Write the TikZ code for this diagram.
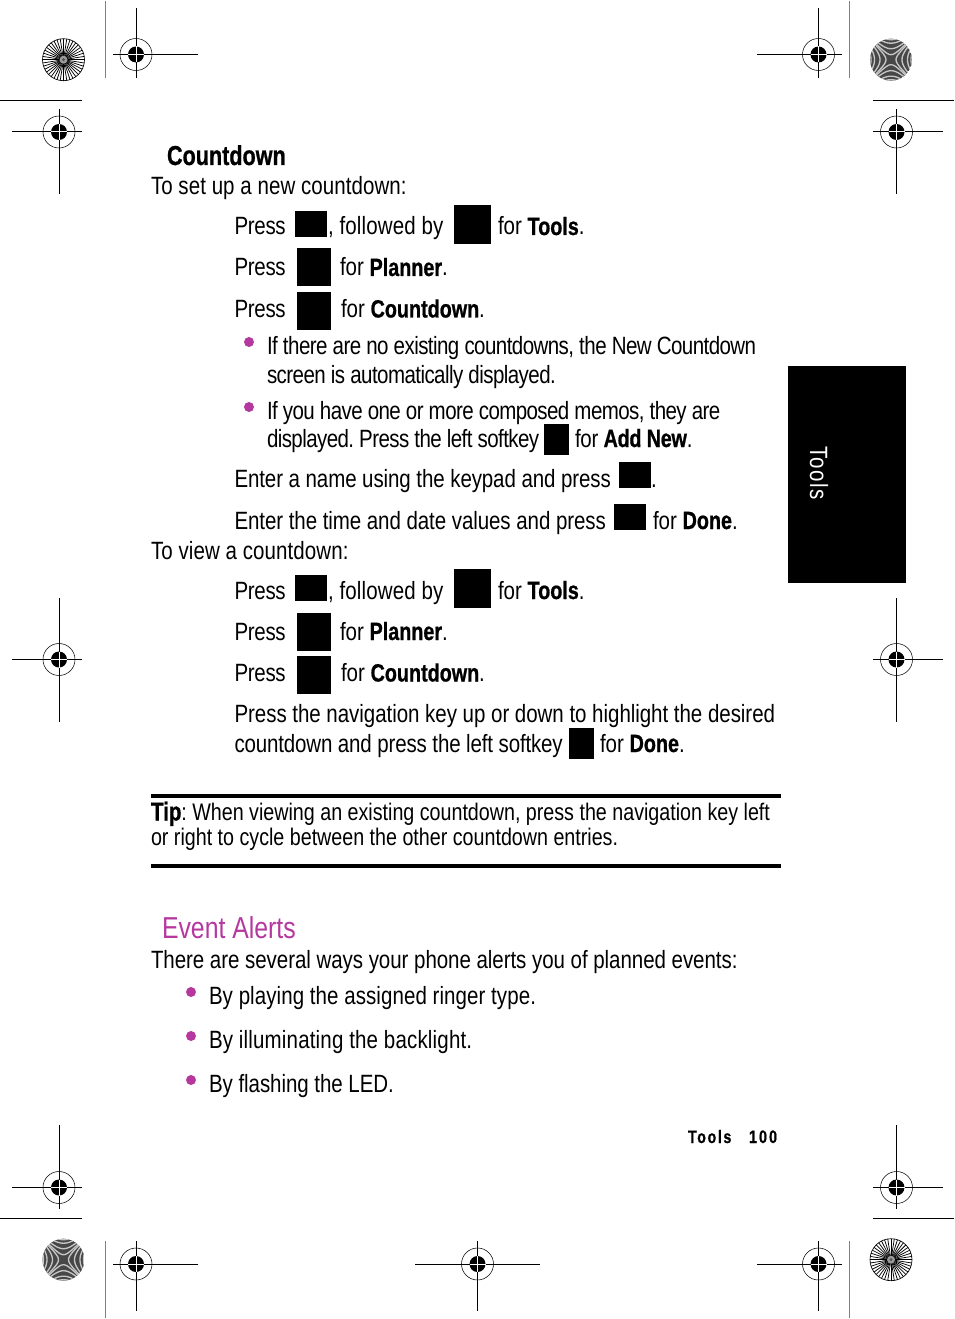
\documentclass[tikz,border=0pt]{standalone}
\usepackage{fontspec}
\setmainfont[FakeStretch=0.82,BoldFeatures={FakeStretch=0.79,FakeBold=0.8}]{Liberation Sans}
\usetikzlibrary{positioning}
\definecolor{alertpurple}{HTML}{B5389F}
\frenchspacing
\tikzset{
  txt/.style={anchor=base west, inner sep=0pt, outer sep=0pt, font=\fontsize{18.75pt}{22pt}\selectfont},
  ls/.style={txt, font=\fontsize{18.75pt}{22pt}\selectfont\addfontfeature{LetterSpace=#1}},
  tiptxt/.style={txt, font=\fontsize{18pt}{20pt}\selectfont},
  smallkey/.style={fill=black, inner sep=0pt, minimum width=24pt, minimum height=19.5pt},
  bigkey/.style={fill=black, inner sep=0pt, minimum width=27.75pt, minimum height=29.25pt},
  tallkey/.style={fill=black, inner sep=0pt, minimum width=25.5pt, minimum height=28.5pt},
  softkey/.style={fill=black, inner sep=0pt, minimum width=18.75pt, minimum height=23.25pt},
  bullet/.style={circle, fill=alertpurple, inner sep=0pt, minimum size=7.5pt},
  rule/.style={line width=3pt},
  trim/.style={line width=0.75pt}
}
\begin{document}
\begin{tikzpicture}[x=0.75pt, y=-0.75pt]
  \useasboundingbox (0,0) rectangle (954,1319);

  % Target circles
  \foreach \cx/\cy in {63.5/59.7, 891/1259.7} {
    \draw[black, line width=0.5pt] (\cx,\cy) circle (21);
    \foreach \a in {0,9,...,351}
      \draw[line width=0.55pt] (\cx,\cy) -- ++(\a:21);
    \fill[gray!80] (\cx,\cy) circle (4);
    \fill[black!70] (\cx,\cy) circle (1.5);
  }
  \foreach \cx/\cy in {891/59.7, 63.5/1259.7} {
    \begin{scope}
      \clip (\cx,\cy) circle (21);
      \fill[black!72] (\cx,\cy) circle (21);
      \foreach \c in {5,11,16.5,20}
        \foreach \s in {-1,1} {
          \draw[gray!45, line width=1pt] plot[domain=-21:21, samples=25, smooth] ({\cx+\x},{\cy+\s*sqrt(\x*\x+\c*\c)});
          \draw[gray!45, line width=1pt] plot[domain=-21:21, samples=25, smooth] ({\cx+\s*sqrt(\x*\x+\c*\c)},{\cy+\x});
        }
    \end{scope}
  }

  % Crop marks
  \foreach \cx/\cy/\xa/\xb/\ya/\yb in {
    136/54.5/113/198/8/78, 818.5/54.5/757/842/8/78,
    59/132/12/82/109/194, 896.5/132/873/943/109/194,
    59/659.5/12/82/598/722, 896.5/659.5/873/943/598/722,
    59/1187.5/12/82/1125/1209, 896.5/1187.5/873/943/1125/1209,
    136/1264/113/198/1241/1311, 477.5/1264/415/540/1241/1311, 818.5/1264/757/842/1241/1311} {
    \fill (\cx,\cy) circle (8);
    \draw[line width=0.4pt] (\cx,\cy) circle (16);
    \draw[trim] (\xa,\cy) -- (\xb,\cy);
    \draw[trim] (\cx,\ya) -- (\cx,\yb);
    \draw[white, line width=0.75pt] (\cx-8,\cy) -- (\cx+8,\cy);
    \draw[white, line width=0.75pt] (\cx,\cy-8) -- (\cx,\cy+8);
  }
  \draw[trim, gray] (105.5,1) -- (105.5,78);
  \draw[trim, gray] (849.5,1) -- (849.5,78);
  \draw[trim, gray] (105.5,1241) -- (105.5,1318);
  \draw[trim, gray] (849.5,1241) -- (849.5,1318);
  \draw[trim] (0,101) -- (82,101);
  \draw[trim] (873,101) -- (954,101);
  \draw[trim] (0,1218.5) -- (82,1218.5);
  \draw[trim] (873,1218.5) -- (954,1218.5);

  % Side tab
  \fill (788,366) rectangle (906,583);
  \node[ls=6, rotate=-90, white] (tab) at (810,446) {Tools};

  % First list
  \node[txt, font=\fontsize{20.5pt}{24pt}\selectfont\bfseries] (title) at (167,165) {Countdown};
  \node[ls=0.3] (setup) at (151,195) {To set up a new countdown:};

  \node[ls=-1.2] (pa) at (234.5,235) {Press};
  \node[smallkey] (ka) at (311,224) {};
  \node[ls=0.6] (fa) at (328,235) {, followed by};
  \node[bigkey] (kb) at (472.5,224.5) {};
  \node[txt] (ta) at (498,235) {for \textbf{Tools}.};

  \node[ls=-1.2] (pb) at (234.5,276) {Press};
  \node[tallkey] (kc) at (314,267.5) {};
  \node[txt] (tb) at (340,276) {for \textbf{Planner}.};

  \node[ls=-1.2] (pc) at (234.5,317.5) {Press};
  \node[tallkey] (kd) at (314,311) {};
  \node[txt] (tc) at (341,317.5) {for \textbf{Countdown}.};

  \node[bullet] (ba) at (249,342) {};
  \node[ls=-2.2] (la) at (267,354) {If there are no existing countdowns, the New Countdown};
  \node[ls=-2.2] (lb) at (267,383) {screen is automatically displayed.};
  \node[bullet] (bb) at (249,407) {};
  \node[ls=-2.3] (lc) at (267,419) {If you have one or more composed memos, they are};
  \node[ls=-2.3] (ld) at (267,447) {displayed. Press the left softkey};
  \node[softkey] (ke) at (556.5,439) {};
  \node[ls=-1] (le) at (575,447) {for \textbf{Add New}.};

  \node[ls=-0.4] (na) at (234.5,487) {Enter a name using the keypad and press};
  \node[smallkey] (kf) at (635,475) {};
  \node[txt] (nb) at (651,487) {.};
  \node[ls=-0.3] (da) at (234.5,529) {Enter the time and date values and press};
  \node[smallkey] (kg) at (630,516.5) {};
  \node[txt] (db) at (653,529) {for \textbf{Done}.};

  % Second list
  \node[ls=0.4] (view) at (151,559) {To view a countdown:};

  \node[ls=-1.2] (pd) at (234.5,599) {Press};
  \node[smallkey] (kh) at (311,588) {};
  \node[ls=0.6] (fb) at (328,599) {, followed by};
  \node[bigkey] (ki) at (472.5,588.5) {};
  \node[txt] (td) at (498,599) {for \textbf{Tools}.};

  \node[ls=-1.2] (pe) at (234.5,640) {Press};
  \node[tallkey] (kj) at (314,631.5) {};
  \node[txt] (te) at (340,640) {for \textbf{Planner}.};

  \node[ls=-1.2] (pf) at (234.5,681.5) {Press};
  \node[tallkey] (kk) at (314,675) {};
  \node[txt] (tf) at (341,681.5) {for \textbf{Countdown}.};

  \node[ls=-0.15] (ha) at (234.5,722) {Press the navigation key up or down to highlight the desired};
  \node[ls=-0.6] (hb) at (234.5,752) {countdown and press the left softkey};
  \node[softkey] (kl) at (581.5,743) {};
  \node[txt] (hc) at (600,752) {for \textbf{Done}.};

  % Tip box
  \draw[rule] (151,796) -- (781,796);
  \draw[rule] (151,866) -- (781,866);
  \node[tiptxt] (tipa) at (151,820.5) {\textbf{\fontsize{19.5pt}{20pt}\selectfont Tip}: When viewing an existing countdown, press the navigation key left};
  \node[tiptxt] (tipb) at (151,845) {or right to cycle between the other countdown entries.};

  % Event alerts
  \node[txt, alertpurple, font=\fontsize{22.7pt}{26pt}\selectfont] (alerts) at (162,938) {Event Alerts};
  \node[ls=-0.2] (ways) at (151,968) {There are several ways your phone alerts you of planned events:};
  \node[bullet] (bc) at (191,992) {};
  \node[ls=0.3] (ea) at (209,1004) {By playing the assigned ringer type.};
  \node[bullet] (bd) at (191,1036) {};
  \node[ls=0.7] (eb) at (209,1048) {By illuminating the backlight.};
  \node[bullet] (be) at (191,1080) {};
  \node[ls=-0.2] (ec) at (209,1092) {By flashing the LED.};

  % Footer
  \node[txt, font=\fontsize{13.5pt}{16pt}\selectfont\bfseries\addfontfeature{LetterSpace=9}] (ftool) at (688,1143) {Tools};
  \node[txt, font=\fontsize{13.5pt}{16pt}\selectfont\bfseries\addfontfeature{LetterSpace=12}] (fnum) at (749,1143) {100};
\end{tikzpicture}
\end{document}
